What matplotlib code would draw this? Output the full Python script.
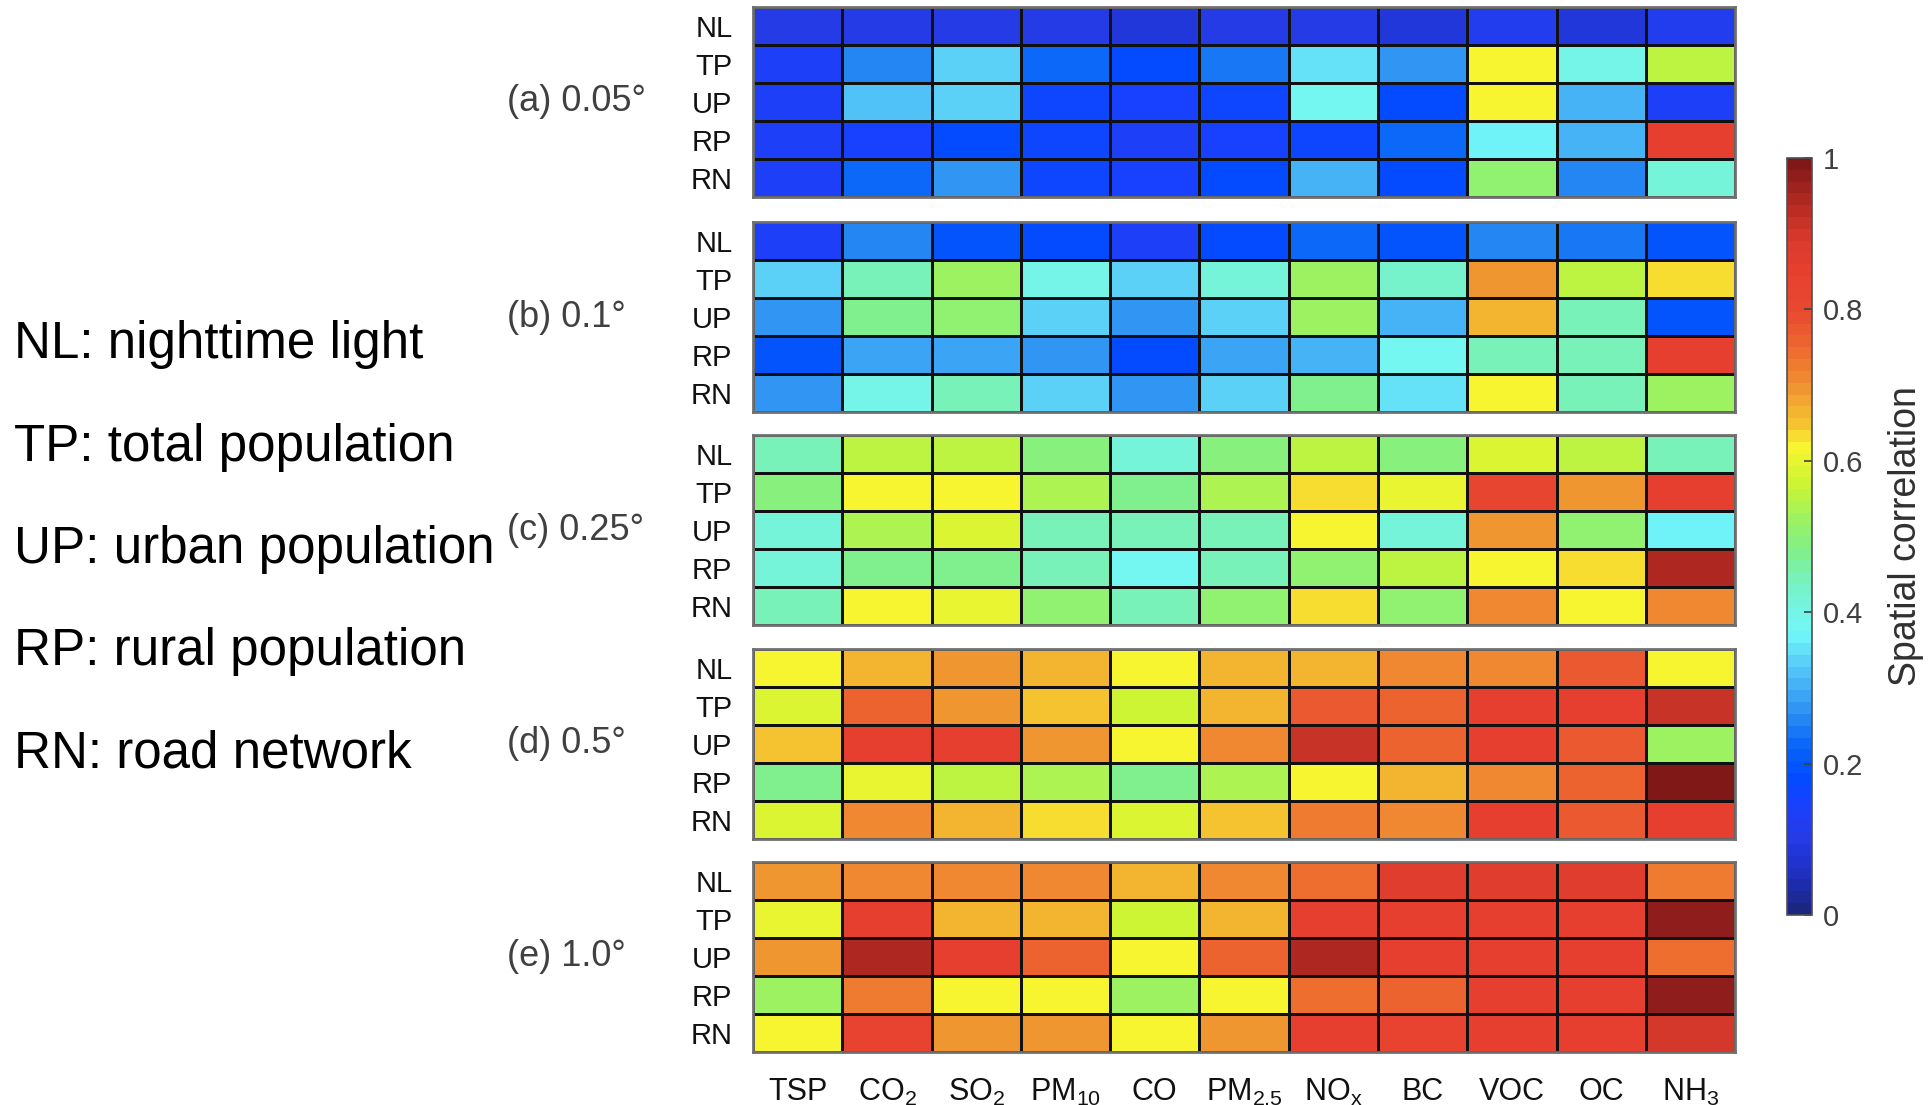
import numpy as np
import matplotlib.pyplot as plt
from matplotlib.colors import LinearSegmentedColormap

plt.rcParams['font.family'] = ['Liberation Sans', 'DejaVu Sans']
plt.rcParams['mathtext.default'] = 'regular'

species = ['TSP', 'CO$_2$', 'SO$_2$', 'PM$_{10}$', 'CO', 'PM$_{2.5}$',
           'NO$_x$', 'BC', 'VOC', 'OC', 'NH$_3$']
proxies = ['NL', 'TP', 'UP', 'RP', 'RN']
resolutions = ['(a) 0.05°', '(b) 0.1°', '(c) 0.25°', '(d) 0.5°', '(e) 1.0°']
legend_lines = ['NL: nighttime light', 'TP: total population',
                'UP: urban population', 'RP: rural population',
                'RN: road network']

# spatial correlation, rows = proxies, cols = species
corr_005 = [
    [0.10, 0.10, 0.10, 0.10, 0.09, 0.10, 0.10, 0.08, 0.12, 0.09, 0.11],
    [0.14, 0.26, 0.34, 0.22, 0.18, 0.24, 0.35, 0.28, 0.61, 0.40, 0.56],
    [0.14, 0.32, 0.34, 0.16, 0.15, 0.17, 0.38, 0.18, 0.61, 0.30, 0.14],
    [0.14, 0.15, 0.18, 0.16, 0.14, 0.15, 0.16, 0.22, 0.36, 0.31, 0.85],
    [0.14, 0.22, 0.28, 0.16, 0.15, 0.18, 0.30, 0.18, 0.51, 0.26, 0.42],
]
corr_01 = [
    [0.14, 0.26, 0.20, 0.18, 0.14, 0.18, 0.22, 0.20, 0.26, 0.24, 0.20],
    [0.33, 0.45, 0.53, 0.40, 0.33, 0.42, 0.53, 0.43, 0.70, 0.56, 0.64],
    [0.28, 0.47, 0.51, 0.33, 0.28, 0.33, 0.53, 0.31, 0.67, 0.44, 0.20],
    [0.20, 0.29, 0.29, 0.28, 0.18, 0.29, 0.31, 0.38, 0.45, 0.45, 0.85],
    [0.28, 0.40, 0.45, 0.33, 0.28, 0.33, 0.48, 0.35, 0.62, 0.44, 0.53],
]
corr_025 = [
    [0.45, 0.55, 0.56, 0.49, 0.42, 0.49, 0.56, 0.49, 0.59, 0.56, 0.44],
    [0.49, 0.62, 0.62, 0.54, 0.48, 0.54, 0.64, 0.60, 0.82, 0.70, 0.85],
    [0.42, 0.54, 0.59, 0.44, 0.44, 0.44, 0.61, 0.42, 0.70, 0.50, 0.37],
    [0.42, 0.48, 0.47, 0.45, 0.39, 0.45, 0.51, 0.55, 0.62, 0.64, 0.95],
    [0.45, 0.62, 0.60, 0.51, 0.45, 0.51, 0.63, 0.51, 0.71, 0.62, 0.71],
]
corr_05 = [
    [0.62, 0.66, 0.69, 0.66, 0.61, 0.66, 0.66, 0.71, 0.71, 0.77, 0.62],
    [0.59, 0.75, 0.69, 0.65, 0.57, 0.66, 0.77, 0.75, 0.85, 0.85, 0.91],
    [0.65, 0.85, 0.85, 0.70, 0.61, 0.71, 0.91, 0.75, 0.85, 0.77, 0.52],
    [0.48, 0.60, 0.56, 0.54, 0.48, 0.54, 0.62, 0.66, 0.71, 0.75, 0.99],
    [0.59, 0.71, 0.67, 0.63, 0.59, 0.65, 0.73, 0.71, 0.85, 0.77, 0.85],
]
corr_10 = [
    [0.69, 0.71, 0.71, 0.71, 0.66, 0.71, 0.74, 0.86, 0.86, 0.86, 0.72],
    [0.60, 0.85, 0.66, 0.66, 0.57, 0.66, 0.85, 0.85, 0.85, 0.85, 0.97],
    [0.69, 0.94, 0.85, 0.75, 0.62, 0.75, 0.94, 0.85, 0.85, 0.85, 0.74],
    [0.53, 0.73, 0.61, 0.61, 0.53, 0.61, 0.74, 0.75, 0.85, 0.85, 0.98],
    [0.62, 0.84, 0.69, 0.69, 0.62, 0.69, 0.85, 0.84, 0.85, 0.85, 0.90],
]
panels = [corr_005, corr_01, corr_025, corr_05, corr_10]

# softened jet
cmap = LinearSegmentedColormap.from_list('soft_jet', [
    (0.00, '#1a2680'), (0.05, '#1f30c4'), (0.10, '#243ce8'),
    (0.14, '#1a40ff'), (0.18, '#004dff'), (0.22, '#0a66f8'),
    (0.26, '#298cf2'), (0.30, '#45b2f7'), (0.33, '#5acdf8'),
    (0.37, '#73f8f8'), (0.40, '#75f5e6'), (0.44, '#78f2c0'),
    (0.48, '#80f088'), (0.52, '#99f266'), (0.57, '#ccf533'),
    (0.62, '#f8f530'), (0.65, '#f5c430'), (0.70, '#f09430'),
    (0.75, '#ee6b30'), (0.80, '#e84a30'), (0.85, '#e84030'),
    (0.90, '#d83a2c'), (0.95, '#b02820'), (1.00, '#801818'),
], N=64)

fig = plt.figure(figsize=(19.33, 11.05), dpi=100)

left, width, height = 0.3896, 0.508, 0.172
bottoms = [0.822, 0.627, 0.434, 0.241, 0.048]

for k, (data, res) in enumerate(zip(panels, resolutions)):
    ax = fig.add_axes([left, bottoms[k], width, height])
    mesh = ax.pcolormesh(np.array(data), cmap=cmap, vmin=0, vmax=1,
                         edgecolors='#111111', linewidth=0.9)
    ax.set_xlim(0, len(species))
    ax.set_ylim(len(proxies), 0)
    ax.set_yticks(np.arange(len(proxies)) + 0.5)
    ax.set_yticklabels(proxies, fontsize=21, color='#111111')
    ax.tick_params(axis='y', length=0, pad=15)
    ax.set_xticks(np.arange(len(species)) + 0.5)
    if k == len(panels) - 1:
        ax.set_xticklabels(species, fontsize=22, color='#111111')
        ax.tick_params(axis='x', length=0, pad=18)
    else:
        ax.set_xticklabels([])
        ax.tick_params(axis='x', length=0)
    for sp in ax.spines.values():
        sp.set_color('#707070')
        sp.set_linewidth(2)
    ax.text(-0.2505, 0.5, res, transform=ax.transAxes, ha='left',
            va='center', fontsize=26, color='#404040')

for i, line in enumerate(legend_lines):
    fig.text(0.007, 1 - (358 + i * 102.5) / 1105, line, ha='left',
             va='baseline', fontsize=36.8, color='black')

cax = fig.add_axes([0.9245, 0.172, 0.0129, 0.685])
cb = fig.colorbar(mesh, cax=cax, ticks=[0, 0.2, 0.4, 0.6, 0.8, 1])
cb.ax.set_yticklabels(['0', '0.2', '0.4', '0.6', '0.8', '1'])
cb.ax.tick_params(direction='in', length=6, width=1.2, labelsize=21,
                  colors='#404040', pad=8)
cb.outline.set_edgecolor('#505050')
cb.outline.set_linewidth(1.2)
cb.set_label('Spatial correlation', fontsize=27, color='#303030', labelpad=18)

fig.savefig('out.png', dpi=100, facecolor='white')
